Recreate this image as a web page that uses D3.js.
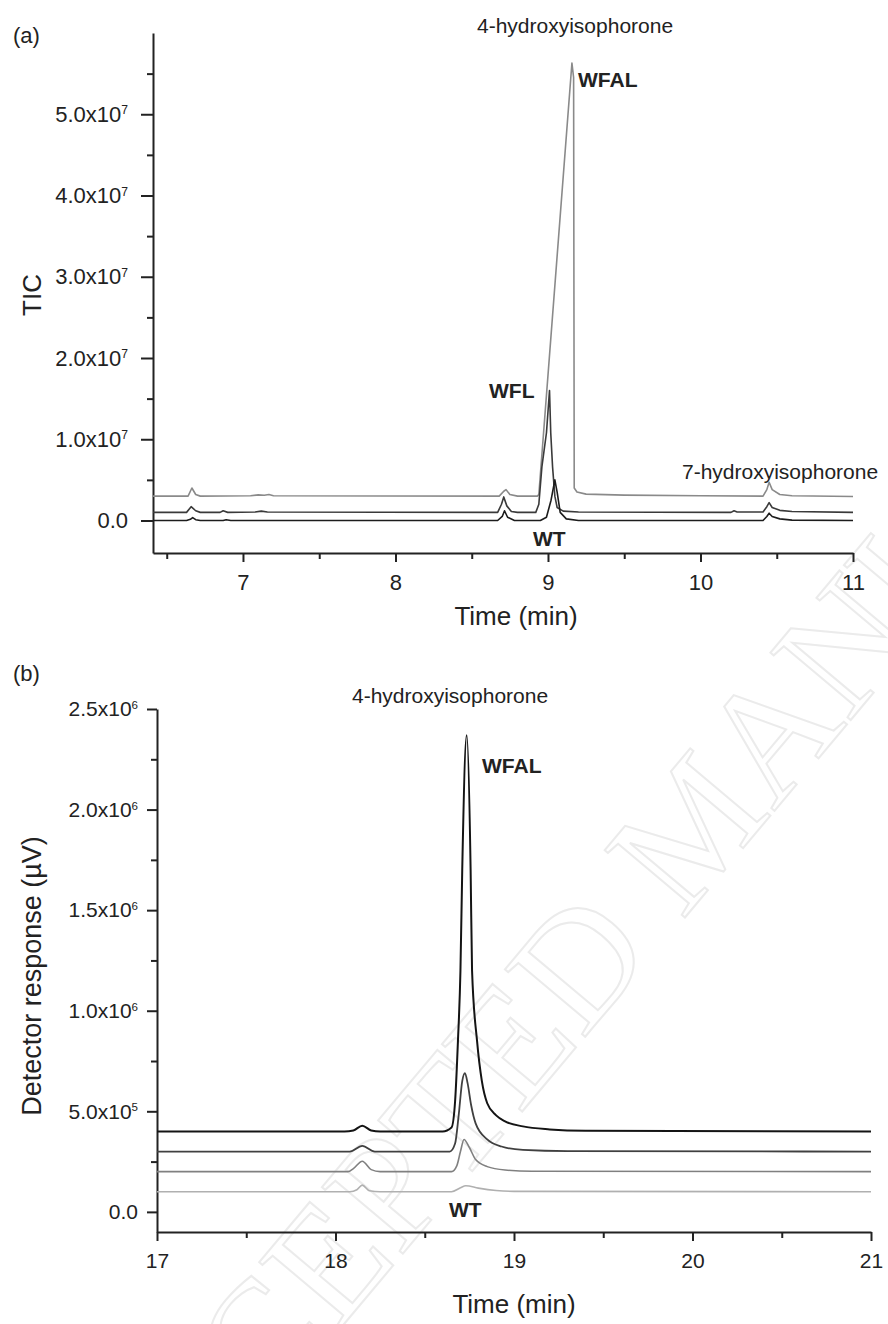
<!doctype html>
<html lang="en">
<head>
<meta charset="utf-8">
<style>
  body { margin: 0; background: #fff; }
  svg text { font-family: "Liberation Sans", Arial, sans-serif; fill: #222; }
</style>
</head>
<body>
<div id="chart"></div>
<script src="https://d3js.org/d3.v7.min.js"></script>
<script>
// ---- panel (a): TIC, 6.4 - 11 min ----
var xTicksA = [7, 8, 9, 10, 11];
var xMinorA = [6.5, 7.5, 8.5, 9.5, 10.5];
var yTicksA = [0, 1e7, 2e7, 3e7, 4e7, 5e7];
var yLabelsA = [["0.0", ""], ["1.0x10", "7"], ["2.0x10", "7"], ["3.0x10", "7"], ["4.0x10", "7"], ["5.0x10", "7"]];
var yMinorA = [5e6, 1.5e7, 2.5e7, 3.5e7, 4.5e7, 5.5e7];

// [time, signal]
var wfalA = [[6.41,3.0e6],[6.64,3.0e6],[6.665,4.0e6],[6.69,3.2e6],[6.72,3.0e6],[7.05,3.05e6],[7.1,3.15e6],
  [7.14,3.1e6],[7.17,3.2e6],[7.2,3.05e6],[8.68,3.0e6],[8.71,3.6e6],[8.725,3.8e6],[8.75,3.2e6],[8.8,3.0e6],
  [8.93,3.0e6],[8.94,3.2e6],[9.157,5.63e7],[9.168,5.45e7],[9.172,4.0e6],[9.19,3.5e6],[9.25,3.25e6],
  [9.5,3.12e6],[10.0,3.05e6],[10.41,3.0e6],[10.435,3.8e6],[10.45,4.7e6],[10.47,3.8e6],[10.52,3.2e6],
  [10.6,3.05e6],[11,2.95e6]];
var wflA = [[6.41,1.0e6],[6.63,1.0e6],[6.66,1.7e6],[6.69,1.2e6],[6.72,1.0e6],[6.85,1.0e6],[6.87,1.2e6],
  [6.9,1.0e6],[7.08,1.05e6],[7.12,1.15e6],[7.16,1.05e6],[8.67,1.0e6],[8.695,2.0e6],[8.71,2.9e6],[8.73,1.8e6],
  [8.76,1.1e6],[8.8,1.0e6],[8.92,1.0e6],[8.94,2.0e6],[8.96,6.6e6],[8.99,1.08e7],[9.01,1.6e7],[9.018,1.08e7],
  [9.03,6.6e6],[9.045,3.0e6],[9.06,1.6e6],[9.1,1.15e6],[9.2,1.05e6],[10.2,1.0e6],[10.22,1.2e6],[10.24,1.05e6],
  [10.41,1.05e6],[10.435,1.7e6],[10.45,2.2e6],[10.47,1.6e6],[10.52,1.25e6],[10.6,1.1e6],[11,1.0e6]];
var wtA = [[6.41,0],[6.63,0],[6.655,1.5e5],[6.67,3.5e5],[6.69,1.0e5],[6.72,0],[6.87,0],[6.89,1e5],[6.92,0],
  [8.67,0],[8.70,5e5],[8.715,1.2e6],[8.735,4e5],[8.78,0],[8.95,0],[8.99,4e5],[9.02,2.5e6],[9.045,5.0e6],
  [9.06,3.5e6],[9.08,1.0e6],[9.12,2e5],[9.2,0],[10.41,0],[10.435,5e5],[10.45,9e5],[10.47,5e5],[10.52,2e5],
  [10.6,0.5e5],[11,0]];

// ---- panel (b): detector response, 17 - 21 min ----
var xTicksB = [17, 18, 19, 20, 21];
var xMinorB = [17.5, 18.5, 19.5, 20.5];
var yTicksB = [0, 5e5, 1e6, 1.5e6, 2e6, 2.5e6];
var yLabelsB = [["0.0", ""], ["5.0x10", "5"], ["1.0x10", "6"], ["1.5x10", "6"], ["2.0x10", "6"], ["2.5x10", "6"]];
var yMinorB = [2.5e5, 7.5e5, 1.25e6, 1.75e6, 2.25e6];

var wfalB = [[17,4.0e5],[18.05,4.0e5],[18.1,4.05e5],[18.15,4.28e5],[18.2,4.05e5],[18.25,4.0e5],[18.6,4.0e5],
  [18.65,4.2e5],[18.67,5.5e5],[18.686,8.5e5],[18.70,1.2e6],[18.71,1.7e6],[18.735,2.37e6],[18.757,1.7e6],
  [18.765,1.2e6],[18.793,8.5e5],[18.82,6.5e5],[18.85,5.4e5],[18.9,4.8e5],[18.95,4.5e5],[19.05,4.25e5],
  [19.2,4.1e5],[19.4,4.03e5],[21,4.0e5]];
var mid1B = [[17,3.0e5],[18.08,3.0e5],[18.15,3.28e5],[18.22,3.0e5],[18.64,3.0e5],[18.67,3.4e5],[18.69,4.8e5],
  [18.71,6.5e5],[18.725,6.9e5],[18.74,6.4e5],[18.76,5.3e5],[18.785,4.4e5],[18.85,3.6e5],[18.93,3.25e5],
  [19.05,3.08e5],[19.3,3.02e5],[21,3.0e5]];
var mid2B = [[17,2.0e5],[18.07,2.0e5],[18.1,2.15e5],[18.15,2.52e5],[18.2,2.1e5],[18.25,2.0e5],[18.65,2.0e5],
  [18.68,2.3e5],[18.70,3.0e5],[18.72,3.6e5],[18.75,3.2e5],[18.785,2.6e5],[18.85,2.25e5],[18.95,2.08e5],
  [19.1,2.02e5],[21,2.0e5]];
var wtB = [[17,1.0e5],[18.08,1.0e5],[18.12,1.1e5],[18.15,1.33e5],[18.19,1.05e5],[18.25,1.0e5],[18.65,1.0e5],
  [18.7,1.2e5],[18.73,1.3e5],[18.8,1.18e5],[18.9,1.06e5],[19.0,1.02e5],[21,1.0e5]];

var svg = d3.select("#chart").append("svg")
    .attr("width", 888)
    .attr("height", 1324);

// faint watermark behind the plots
svg.append("text")
   .attr("transform", "translate(125,1585) rotate(-50)")
   .style("font-family", "'Liberation Serif', 'Times New Roman', serif")
   .style("font-size", "160px")
   .style("fill", "none")
   .style("stroke", "#ebebeb")
   .style("stroke-width", 2)
   .text("ACCEPTED MANUSCRIPT");

function supLabels(g, labels) {
  g.selectAll(".tick text").each(function(d, i) {
    var t = d3.select(this);
    t.text(null);
    t.append("tspan").text(labels[i][0]);
    if (labels[i][1]) {
      t.append("tspan").attr("dy", "-0.62em").style("font-size", "0.55em").text(labels[i][1]);
    }
  });
}

function styleAxis(g, fs) {
  g.selectAll("path, line").attr("stroke", "#222").attr("stroke-width", 2);
  g.selectAll("text").style("font-size", fs + "px").attr("fill", "#2a2a2a");
}

function drawPanel(p) {
  var gx = svg.append("g").attr("transform", "translate(0," + p.y.range()[0] + ")")
      .call(d3.axisBottom(p.x).tickValues(p.xTicks).tickSize(9).tickPadding(12)
      .tickSizeOuter(0).tickFormat(d3.format("d")));
  styleAxis(gx, p.fs);
  var gxm = svg.append("g").attr("transform", "translate(0," + p.y.range()[0] + ")")
      .call(d3.axisBottom(p.x).tickValues(p.xMinor).tickSize(6).tickSizeOuter(0).tickFormat(""));
  gxm.select(".domain").remove();
  styleAxis(gxm, p.fs);

  var gy = svg.append("g").attr("transform", "translate(" + p.x.range()[0] + ",0)")
      .call(d3.axisLeft(p.y).tickValues(p.yTicks).tickSize(p.tick).tickPadding(p.pad).tickSizeOuter(0));
  styleAxis(gy, p.fs);
  supLabels(gy, p.yLabels);
  var gym = svg.append("g").attr("transform", "translate(" + p.x.range()[0] + ",0)")
      .call(d3.axisLeft(p.y).tickValues(p.yMinor).tickSize(6).tickSizeOuter(0).tickFormat(""));
  gym.select(".domain").remove();
  styleAxis(gym, p.fs);

  var line = d3.line().x(function(d) { return p.x(d[0]); }).y(function(d) { return p.y(d[1]); })
      .curve(p.curve);
  p.series.forEach(function(s) {
    svg.append("path").datum(s.data)
       .attr("d", line)
       .attr("fill", "none")
       .attr("stroke", s.color)
       .attr("stroke-width", s.w)
       .attr("stroke-linejoin", "round");
  });
}

drawPanel({
  x: d3.scaleLinear().domain([6.41, 11]).range([153, 853]),
  y: d3.scaleLinear().domain([-4e6, 6e7]).range([553, 33]),
  xTicks: xTicksA, xMinor: xMinorA, yTicks: yTicksA, yLabels: yLabelsA, yMinor: yMinorA,
  tick: 12, pad: 13, fs: 22, curve: d3.curveLinear,
  series: [
    {data: wfalA, color: "#8a8a8a", w: 1.6},
    {data: wflA, color: "#3a3a3a", w: 1.6},
    {data: wtA, color: "#1c1c1c", w: 1.6}
  ]
});

drawPanel({
  x: d3.scaleLinear().domain([17, 21]).range([157, 871]),
  y: d3.scaleLinear().domain([-1e5, 2.5e6]).range([1232, 709]),
  xTicks: xTicksB, xMinor: xMinorB, yTicks: yTicksB, yLabels: yLabelsB, yMinor: yMinorB,
  tick: 10, pad: 9, fs: 21, curve: d3.curveMonotoneX,
  series: [
    {data: wtB, color: "#b0b0b0", w: 1.6},
    {data: mid2B, color: "#808080", w: 1.6},
    {data: mid1B, color: "#404040", w: 1.8},
    {data: wfalB, color: "#141414", w: 2}
  ]
});

// labels
function label(x, y, txt, fs, bold) {
  return svg.append("text").attr("x", x).attr("y", y)
    .style("font-size", fs + "px").style("font-weight", bold ? "bold" : "normal").text(txt);
}
label(13, 43, "(a)", 22);
label(477, 33, "4-hydroxyisophorone", 21);
label(578, 87, "WFAL", 21, true);
label(489, 398, "WFL", 21, true);
label(533, 546, "WT", 21, true);
label(682, 479, "7-hydroxyisophorone", 21);
label(516, 625, "Time (min)", 26).attr("text-anchor", "middle");
svg.append("text").attr("transform", "translate(41,295) rotate(-90)")
   .attr("text-anchor", "middle").style("font-size", "26px").text("TIC");

label(13, 681, "(b)", 22);
label(352, 703, "4-hydroxyisophorone", 21);
label(482, 773, "WFAL", 21, true);
label(449, 1217, "WT", 21, true);
label(514, 1313, "Time (min)", 26).attr("text-anchor", "middle");
svg.append("text").attr("transform", "translate(41,976) rotate(-90)")
   .attr("text-anchor", "middle").style("font-size", "27px").text("Detector response (\u00b5V)");
</script>
</body>
</html>
